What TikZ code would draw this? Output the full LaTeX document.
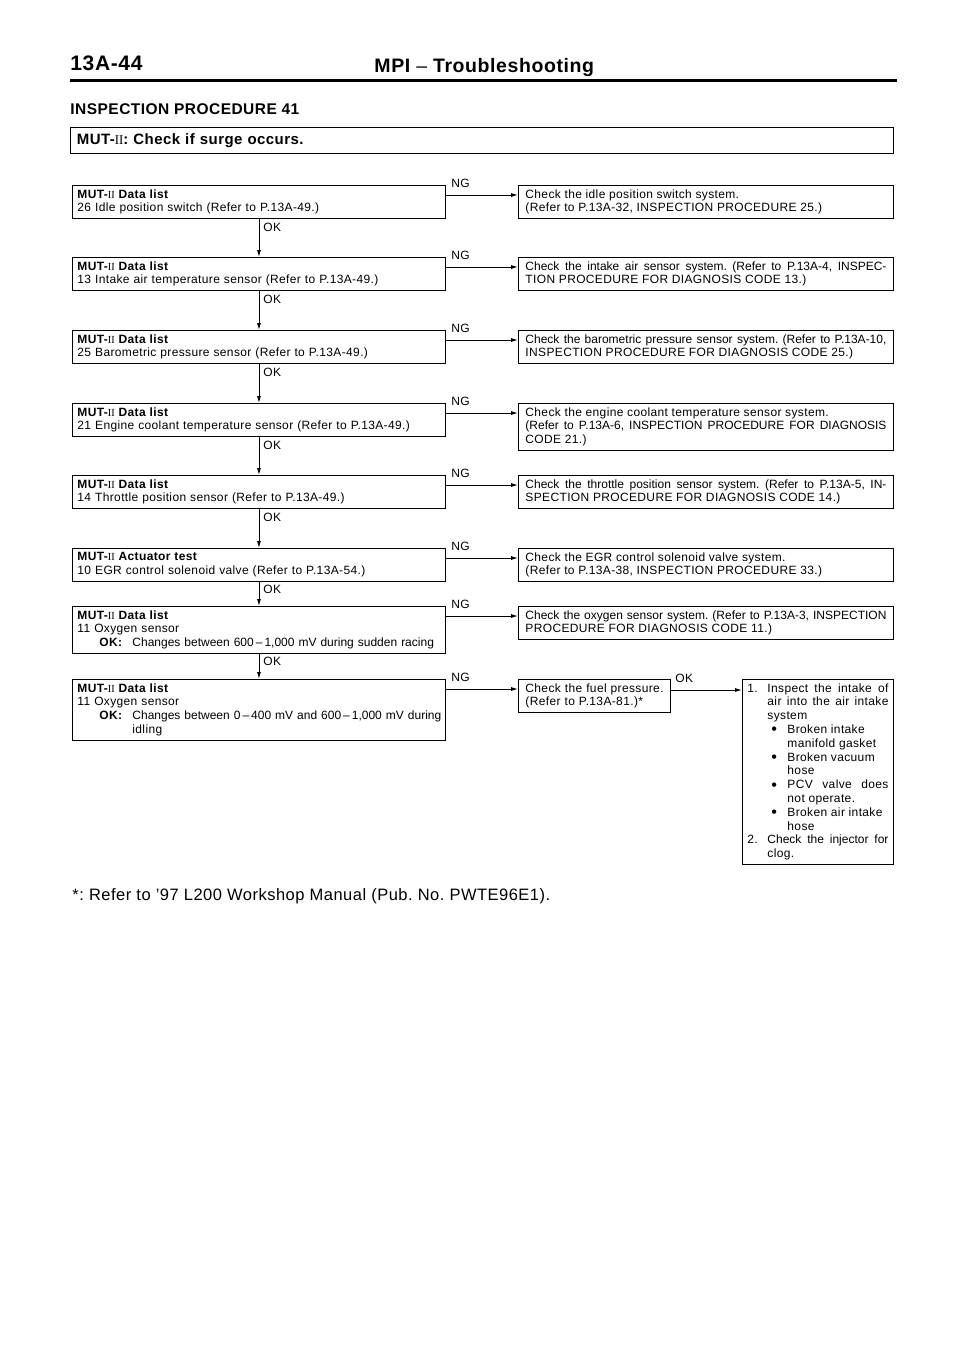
\documentclass[tikz,border=0pt]{standalone}
\usepackage{fontspec}
\setmainfont{Liberation Sans}[LetterSpace=3]
\newfontfamily\tightFont{Liberation Sans}
\newfontfamily\romFont{Liberation Serif}
\usetikzlibrary{arrows.meta}
\frenchspacing
\hyphenpenalty=10000
\exhyphenpenalty=10000

% MUT-II with the serif numerals
\newcommand{\mutTwo}{MUT-{\romFont\mdseries\scalebox{0.85}[0.9]{II}}}
% one entry of the numbered / bulleted list in the last box
\newcommand{\fixLine}[3]{\noindent\hangindent=#1\hangafter=1\hspace*{#2}\makebox[20pt][l]{#3}}
\newcommand{\fixDot}{\hspace{4pt}\raisebox{-1.3pt}{\scalebox{1.35}{\textbullet}}}

\begin{document}
\begin{tikzpicture}[
    x=1pt, y=-1pt,
    >={Latex[length=7pt,width=4pt]},
    line width=0.9pt,
    font=\fontsize{12}{13.8}\selectfont,
    % Box styles
    leftBox/.style={draw, anchor=north west, text width=363pt, inner xsep=5pt, inner ysep=4pt, align=left},
    rightBox/.style={draw, anchor=north west, text width=361pt, inner xsep=7pt, inner ysep=4pt, align=justify},
    fuelBox/.style={draw, anchor=north west, text width=138pt, inner xsep=7pt, inner ysep=4pt, align=left},
    fixBox/.style={draw, anchor=north west, text width=141pt, inner xsep=5pt, inner ysep=4pt, align=justify},
    tagLabel/.style={inner sep=0pt, anchor=base west},
    flowArrow/.style={->}
]
    \useasboundingbox (0,0) rectangle (960,1358);

    % --- PAGE HEADER ---
    \node[anchor=base west, inner sep=0pt, font=\fontsize{21}{24}\selectfont\bfseries] (pageNum) at (70,70) {13A-44};
    \node[anchor=base west, inner sep=0pt, font=\fontsize{19.5}{23}\selectfont\bfseries] (pageTitle) at (374,72) {MPI {\mdseries –} Troubleshooting};
    \draw[line width=3pt] (70,80) -- (897,80);
    \node[anchor=base west, inner sep=0pt, font=\fontsize{15.5}{18}\selectfont\bfseries] (procTitle) at (70,114) {INSPECTION PROCEDURE 41};
    \node[draw, anchor=north west, text width=810pt, inner xsep=6.5pt, minimum height=26pt, align=left, font=\fontsize{15}{17}\selectfont\bfseries] (surgeBox) at (70,127) {\mutTwo: Check if surge occurs.};

    % --- LEFT COLUMN: MUT-II CHECKS ---
    \node[leftBox] (mutIdle) at (72,185) {{\bfseries\mutTwo\ Data list}\\26 Idle position switch (Refer to P.13A-49.)};
    \node[leftBox] (mutIntake) at (72,257) {{\bfseries\mutTwo\ Data list}\\13 Intake air temperature sensor (Refer to P.13A-49.)};
    \node[leftBox] (mutBaro) at (72,330) {{\bfseries\mutTwo\ Data list}\\25 Barometric pressure sensor (Refer to P.13A-49.)};
    \node[leftBox] (mutCoolant) at (72,403) {{\bfseries\mutTwo\ Data list}\\21 Engine coolant temperature sensor (Refer to P.13A-49.)};
    \node[leftBox] (mutThrottle) at (72,475) {{\bfseries\mutTwo\ Data list}\\14 Throttle position sensor (Refer to P.13A-49.)};
    \node[leftBox] (mutEgr) at (72,548) {{\bfseries\mutTwo\ Actuator test}\\10 EGR control solenoid valve (Refer to P.13A-54.)};
    \node[leftBox] (mutOxyRace) at (72,606) {{\bfseries\mutTwo\ Data list}\\11 Oxygen sensor\\
        \hspace*{22pt}\makebox[33pt][l]{\bfseries OK:}\makebox[306pt][s]{\tightFont Changes between 600\,–\,1,000 mV during sudden racing}};
    \node[leftBox] (mutOxyIdle) at (72,679) {{\bfseries\mutTwo\ Data list}\\11 Oxygen sensor\\
        \hspace*{22pt}\makebox[33pt][l]{\bfseries OK:}\makebox[306pt][s]{\tightFont Changes between 0\,–\,400 mV and 600\,–\,1,000 mV during}\\
        \hspace*{55pt}idling};

    % --- RIGHT COLUMN: NG ACTIONS ---
    \node[rightBox] (chkIdle) at (518,185) {Check the idle position switch system.\\(Refer to P.13A-32, INSPECTION PROCEDURE 25.)};
    \node[rightBox] (chkIntake) at (518,257) {{\tightFont Check the intake air sensor system. (Refer to P.13A-4, INSPEC-}\linebreak TION PROCEDURE FOR DIAGNOSIS CODE 13.)};
    \node[rightBox] (chkBaro) at (518,330) {{\tightFont Check the barometric pressure sensor system. (Refer to P.13A-10,}\linebreak INSPECTION PROCEDURE FOR DIAGNOSIS CODE 25.)};
    \node[rightBox] (chkCoolant) at (518,403) {Check the engine coolant temperature sensor system.\\{\tightFont (Refer to P.13A-6, INSPECTION PROCEDURE FOR DIAGNOSIS}\linebreak CODE 21.)};
    \node[rightBox] (chkThrottle) at (518,475) {{\tightFont Check the throttle position sensor system. (Refer to P.13A-5, IN-}\linebreak SPECTION PROCEDURE FOR DIAGNOSIS CODE 14.)};
    \node[rightBox] (chkEgr) at (518,548) {Check the EGR control solenoid valve system.\\(Refer to P.13A-38, INSPECTION PROCEDURE 33.)};
    \node[rightBox] (chkOxy) at (518,606) {{\tightFont Check the oxygen sensor system. (Refer to P.13A-3, INSPECTION}\linebreak PROCEDURE FOR DIAGNOSIS CODE 11.)};
    \node[fuelBox] (chkFuel) at (518,679) {Check the fuel pressure.\\(Refer to P.13A-81.)*};
    \node[fixBox] (chkFix) at (742,679) {%
        \fixLine{20pt}{0pt}{1.}Inspect the intake of\linebreak air into the air intake\linebreak system\par
        \fixLine{40pt}{20pt}{\fixDot}Broken intake\\manifold gasket\par
        \fixLine{40pt}{20pt}{\fixDot}Broken vacuum\\hose\par
        \fixLine{40pt}{20pt}{\fixDot}PCV valve does\linebreak not operate.\par
        \fixLine{40pt}{20pt}{\fixDot}Broken air intake\\hose\par
        \fixLine{20pt}{0pt}{2.}{\tightFont Check the injector for}\linebreak clog.\par};

    % --- OK FLOW (DOWNWARDS) ---
    \draw[flowArrow] (mutIdle.south) node[tagLabel, anchor=north west, xshift=4pt, yshift=-4pt] (okIdle) {OK} -- (mutIntake.north);
    \draw[flowArrow] (mutIntake.south) node[tagLabel, anchor=north west, xshift=4pt, yshift=-4pt] (okIntake) {OK} -- (mutBaro.north);
    \draw[flowArrow] (mutBaro.south) node[tagLabel, anchor=north west, xshift=4pt, yshift=-4pt] (okBaro) {OK} -- (mutCoolant.north);
    \draw[flowArrow] (mutCoolant.south) node[tagLabel, anchor=north west, xshift=4pt, yshift=-4pt] (okCoolant) {OK} -- (mutThrottle.north);
    \draw[flowArrow] (mutThrottle.south) node[tagLabel, anchor=north west, xshift=4pt, yshift=-4pt] (okThrottle) {OK} -- (mutEgr.north);
    \draw[flowArrow] (mutEgr.south) node[tagLabel, anchor=north west, xshift=4pt, yshift=-3pt] (okEgr) {OK} -- (mutOxyRace.north);
    \draw[flowArrow] (mutOxyRace.south) node[tagLabel, anchor=north west, xshift=4pt, yshift=-3pt] (okOxyRace) {OK} -- (mutOxyIdle.north);

    % --- NG FLOW (TO THE RIGHT) ---
    \coordinate (ngIdle) at ([yshift=-10pt]mutIdle.north east);
    \coordinate (ngIntake) at ([yshift=-10pt]mutIntake.north east);
    \coordinate (ngBaro) at ([yshift=-10pt]mutBaro.north east);
    \coordinate (ngCoolant) at ([yshift=-10pt]mutCoolant.north east);
    \coordinate (ngThrottle) at ([yshift=-10pt]mutThrottle.north east);
    \coordinate (ngEgr) at ([yshift=-10pt]mutEgr.north east);
    \coordinate (ngOxyRace) at ([yshift=-10pt]mutOxyRace.north east);
    \coordinate (ngOxyIdle) at ([yshift=-10pt]mutOxyIdle.north east);
    \draw[flowArrow] (ngIdle) node[tagLabel, xshift=5pt, yshift=8pt] (ngIdleTag) {NG} -- (ngIdle -| chkIdle.west);
    \draw[flowArrow] (ngIntake) node[tagLabel, xshift=5pt, yshift=8pt] (ngIntakeTag) {NG} -- (ngIntake -| chkIntake.west);
    \draw[flowArrow] (ngBaro) node[tagLabel, xshift=5pt, yshift=8pt] (ngBaroTag) {NG} -- (ngBaro -| chkBaro.west);
    \draw[flowArrow] (ngCoolant) node[tagLabel, xshift=5pt, yshift=8pt] (ngCoolantTag) {NG} -- (ngCoolant -| chkCoolant.west);
    \draw[flowArrow] (ngThrottle) node[tagLabel, xshift=5pt, yshift=8pt] (ngThrottleTag) {NG} -- (ngThrottle -| chkThrottle.west);
    \draw[flowArrow] (ngEgr) node[tagLabel, xshift=5pt, yshift=8pt] (ngEgrTag) {NG} -- (ngEgr -| chkEgr.west);
    \draw[flowArrow] (ngOxyRace) node[tagLabel, xshift=5pt, yshift=8pt] (ngOxyRaceTag) {NG} -- (ngOxyRace -| chkOxy.west);
    \draw[flowArrow] (ngOxyIdle) node[tagLabel, xshift=5pt, yshift=8pt] (ngOxyIdleTag) {NG} -- (ngOxyIdle -| chkFuel.west);

    % fuel pressure OK -> inspect intake / injector
    \coordinate (okFuel) at ([yshift=-11pt]chkFuel.north east);
    \draw[flowArrow] (okFuel) node[tagLabel, xshift=4pt, yshift=8pt] (okFuelTag) {OK} -- (okFuel -| chkFix.west);

    % --- FOOTNOTE ---
    \node[anchor=base west, inner sep=0pt, font=\fontsize{16.5}{20}\selectfont] (footNote) at (72,900) {*: Refer to ’97 L200 Workshop Manual (Pub. No. PWTE96E1).};

\end{tikzpicture}
\end{document}
